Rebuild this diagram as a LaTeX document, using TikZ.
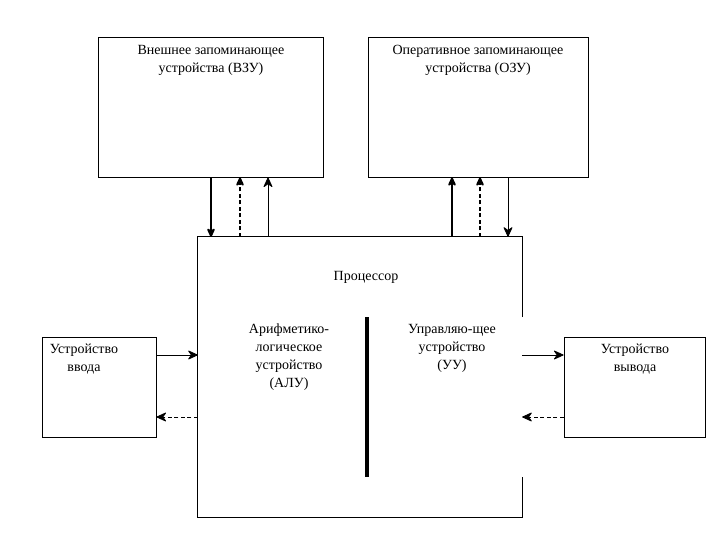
\documentclass[tikz,border=0pt]{standalone}
\usepackage{fontspec}
\setmainfont{Liberation Serif}
\newfontfamily\serifcyr{Liberation Serif}
\usetikzlibrary{arrows.meta}
\tikzset{
  box/.style={draw, line width=0.9pt, inner sep=0pt, minimum width=#1},
  lbl/.style={align=center, anchor=north, inner sep=0pt, font=\serifcyr\fontsize{14}{18}\selectfont},
  tip/.style={-{Stealth[length=11pt,width=10pt,inset=3.5pt,round]}},
  arr/.style={line width=0.9pt, tip},
  tarr/.style={line width=1.8pt, tip},
  dashedarr/.style={dash pattern=on 4pt off 2.5pt},
}
\begin{document}
\begin{tikzpicture}[x=1pt,y=-1pt]
\useasboundingbox[fill=white] (0,0) rectangle (720,540);
% boxes
\node[box=225pt, minimum height=140pt] (vzu) at (210.5,107) {};
\node[box=220pt, minimum height=140pt] (ozu) at (478,107) {};
\node[inner sep=0pt, minimum width=324pt, minimum height=280pt] (proc) at (360,377) {};
\node[box=114pt, minimum height=100pt] (inp) at (99,387) {};
\node[box=141pt, minimum height=100pt] (outp) at (634.5,387) {};
% processor border with a gap on the right
\coordinate (g1) at (0,317);
\coordinate (g2) at (0,477);
\draw[line width=0.9pt] (proc.east |- g1) -- (proc.north east) -- (proc.north west)
  -- (proc.south west) -- (proc.south east) -- (proc.east |- g2);
% labels
\node[lbl] (tvzu) at (211,45) {Внешнее запоминающее\\устройства (ВЗУ)};
\node[lbl] (tozu) at (478,45) {Оперативное запоминающее\\устройства (ОЗУ)};
\node[lbl] (tproc) at (366,271) {Процессор};
\node[lbl] (talu) at (289,324) {Арифметико-\\логическое\\устройство\\(АЛУ)};
\node[lbl] (tuu) at (452,324) {Управляю-щее\\устройство\\(УУ)};
\node[lbl] (tinp) at (84,344) {Устройство\\ввода};
\node[lbl] (toutp) at (635,344) {Устройство\\вывода};
% central bar
\coordinate (b1) at (367,317);
\coordinate (b2) at (367,477);
\draw[line width=4pt] (b1) -- (b2);
% vertical connectors
\coordinate (c1) at (211,0);
\coordinate (c2) at (240,0);
\coordinate (c3) at (268,0);
\coordinate (c4) at (452,0);
\coordinate (c5) at (480,0);
\coordinate (c6) at (508,0);
\draw[tarr] (vzu.south -| c1) -- (proc.north -| c1);
\draw[tarr, dashedarr] (proc.north -| c2) -- (vzu.south -| c2);
\draw[arr] (proc.north -| c3) -- (vzu.south -| c3);
\draw[tarr] (proc.north -| c4) -- (ozu.south -| c4);
\draw[tarr, dashedarr] (proc.north -| c5) -- (ozu.south -| c5);
\draw[arr] (ozu.south -| c6) -- (proc.north -| c6);
% horizontal connectors
\coordinate (r1) at (0,355);
\coordinate (r2) at (0,417);
\draw[arr] (inp.east |- r1) -- (proc.west |- r1);
\draw[arr, dashedarr] (proc.west |- r2) -- (inp.east |- r2);
\draw[arr] (proc.east |- r1) -- (outp.west |- r1);
\draw[arr, dashedarr] (outp.west |- r2) -- (proc.east |- r2);
\end{tikzpicture}
\end{document}
